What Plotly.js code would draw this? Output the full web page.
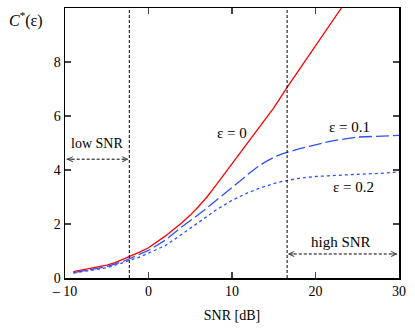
<!DOCTYPE html>
<html>
<head>
<meta charset="utf-8">
<script src="https://cdn.plot.ly/plotly-3.0.1.min.js"></script>
<style>
  html, body { margin: 0; padding: 0; background: #fff; }
  #plot { width: 415px; height: 334px; }
</style>
</head>
<body>
<div id="plot"></div>
<script>
// valores
const snrRed = [-9, -7, -5, -4, -3, -2.3, -1, 0, 2, 4, 5, 6, 7, 8, 10, 12, 13, 14, 15, 16.6, 18, 20, 22, 23.1];
const capEps0 = [0.24, 0.35, 0.48, 0.57, 0.7, 0.79, 0.97, 1.12, 1.55, 2.05, 2.33, 2.65, 3.0, 3.4, 4.22, 5.05, 5.45, 5.87, 6.3, 7.06, 7.7, 8.6, 9.5, 10.0];

const snrBlue = [-9, -7, -5, -3, -2.3, -1, 0, 2, 4, 6, 8, 10, 11, 12, 13, 14, 15, 16, 17, 18, 20, 22, 25, 28, 30];
const capEps01 = [0.2, 0.3, 0.42, 0.62, 0.72, 0.9, 1.02, 1.4, 1.9, 2.35, 2.85, 3.32, 3.6, 3.86, 4.1, 4.3, 4.47, 4.6, 4.7, 4.78, 4.93, 5.08, 5.22, 5.27, 5.28];
const capEps02 = [0.18, 0.27, 0.38, 0.57, 0.66, 0.78, 0.92, 1.2, 1.62, 2.05, 2.5, 2.88, 3.04, 3.17, 3.29, 3.4, 3.5, 3.58, 3.64, 3.69, 3.76, 3.8, 3.84, 3.88, 3.93];

const xTicks = [-10, 0, 10, 20, 30];
const xTickText = ["\u2013 10", "0", "10", "20", "30"];
const yTicks = [0, 2, 4, 6, 8];

// limites de las regiones
const lowSnrEdge = -2.3;
const highSnrEdge = 16.6;

const serif = "Liberation Serif, Times New Roman, serif";
const blue = "rgb(45,80,255)";

const data = [
  { x: snrRed, y: capEps0, mode: "lines", line: { color: "red", width: 1.3 }, hoverinfo: "none" },
  { x: snrBlue, y: capEps01, mode: "lines", line: { color: blue, width: 1.3, dash: "13px,4px" }, hoverinfo: "none" },
  { x: snrBlue, y: capEps02, mode: "lines", line: { color: blue, width: 1.3, dash: "3px,3px" }, hoverinfo: "none" },
];

// flecha punteada con puntas abiertas
function arrow(x0, x1, y) {
  return [
    { x: x0, y: y, ax: 7, ay: 0, xref: "x", yref: "y", showarrow: true, arrowhead: 5, arrowsize: 1, arrowwidth: 1, text: "" },
    { x: x1, y: y, ax: -7, ay: 0, xref: "x", yref: "y", showarrow: true, arrowhead: 5, arrowsize: 1, arrowwidth: 1, text: "" },
  ];
}

const layout = {
  width: 415,
  height: 334,
  margin: { l: 65, r: 16, t: 8, b: 56 },
  showlegend: false,
  paper_bgcolor: "#fff",
  plot_bgcolor: "#fff",
  font: { family: serif, size: 14, color: "#000" },
  xaxis: {
    range: [-10, 30],
    tickvals: xTicks,
    ticktext: xTickText,
    ticks: "inside",
    ticklen: 6,
    tickwidth: 1.5,
    mirror: "ticks",
    showline: true,
    linewidth: 1.5,
    linecolor: "#000",
    showgrid: false,
    zeroline: false,
    tickfont: { family: serif, size: 14 },
    title: { text: "SNR [dB]", font: { family: serif, size: 14 }, standoff: 12 },
  },
  yaxis: {
    range: [0, 10],
    tickvals: yTicks,
    ticks: "inside",
    ticklen: 6,
    tickwidth: 1.5,
    mirror: "ticks",
    showline: true,
    linewidth: 1.5,
    linecolor: "#000",
    showgrid: false,
    zeroline: false,
    tickfont: { family: serif, size: 14 },
  },
  shapes: [
    { type: "line", xref: "x", yref: "paper", x0: lowSnrEdge, x1: lowSnrEdge, y0: 0, y1: 1, line: { color: "#000", width: 1, dash: "3px,2px" } },
    { type: "line", xref: "x", yref: "paper", x0: highSnrEdge, x1: highSnrEdge, y0: 0, y1: 1, line: { color: "#000", width: 1, dash: "3px,2px" } },
    { type: "line", xref: "x", yref: "y", x0: -9.8, x1: lowSnrEdge - 0.2, y0: 4.4, y1: 4.4, line: { color: "#000", width: 1, dash: "3px,2px" } },
    { type: "line", xref: "x", yref: "y", x0: highSnrEdge + 0.2, x1: 29.8, y0: 0.89, y1: 0.89, line: { color: "#000", width: 1, dash: "3px,2px" } },
  ],
  annotations: [
    ...arrow(-9.8, lowSnrEdge - 0.1, 4.4),
    ...arrow(highSnrEdge + 0.1, 29.8, 0.89),
    { x: -6.2, y: 4.98, xref: "x", yref: "y", text: "low SNR", showarrow: false, font: { family: serif, size: 14 } },
    { x: 23.1, y: 1.34, xref: "x", yref: "y", text: "high SNR", showarrow: false, font: { family: serif, size: 15 } },
    { x: 10, y: 5.37, xref: "x", yref: "y", text: "\u03b5 = 0", showarrow: false, font: { family: serif, size: 15 } },
    { x: 24.1, y: 5.6, xref: "x", yref: "y", text: "\u03b5 = 0.1", showarrow: false, font: { family: serif, size: 15 } },
    { x: 24.6, y: 3.37, xref: "x", yref: "y", text: "\u03b5 = 0.2", showarrow: false, font: { family: serif, size: 15 } },
    // titulo del eje y arriba a la izquierda
    {
      x: (7 - 65) / (415 - 65 - 16), y: (334 - 56 - 20) / (334 - 8 - 56),
      xref: "paper", yref: "paper", xanchor: "left", yanchor: "middle",
      text: "<i>C</i><sup>*</sup>(\u03b5)", showarrow: false, font: { family: serif, size: 16 },
    },
  ],
};

Plotly.newPlot("plot", data, layout, { staticPlot: true });
</script>
</body>
</html>
